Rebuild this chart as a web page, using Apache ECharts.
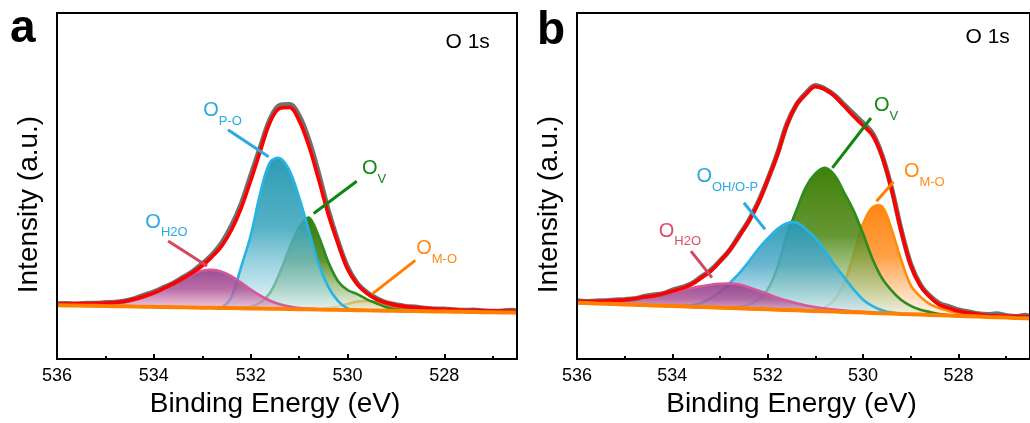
<!DOCTYPE html>
<html><head><meta charset="utf-8">
<script src="https://cdn.jsdelivr.net/npm/echarts@6/dist/echarts.min.js"></script>
<style>html,body{margin:0;padding:0;background:#fff}#c{width:1030px;height:423px}</style>
</head><body><div id="c"></div>
<script>
// ---- data (binding energy grid, eV) ----
const energy = [536.0,535.8,535.6,535.4,535.2,535.0,534.8,534.6,534.4,534.2,534.0,533.8,533.6,533.4,533.2,533.0,532.8,532.6,532.4,532.2,532.0,531.8,531.6,531.4,531.2,531.0,530.8,530.6,530.4,530.2,530.0,529.8,529.6,529.4,529.2,529.0,528.8,528.6,528.4,528.2,528.0,527.8,527.6,527.4,527.2,527.0,526.8,526.6,526.5];
const majorTicks = [536, 534, 532, 530, 528];
const minorTicks = [535, 533, 531, 529, 527];

// panel a : background and heights above background
const baselineA = [54.0,53.8,53.7,53.5,53.4,53.2,53.1,52.9,52.7,52.6,52.4,52.3,52.1,51.9,51.8,51.6,51.5,51.3,51.2,51.0,50.8,50.7,50.5,50.4,50.2,50.1,49.9,49.7,49.6,49.4,49.3,49.1,48.9,48.8,48.6,48.5,48.3,48.2,48.0,47.8,47.7,47.5,47.4,47.2,47.0,46.9,46.7,46.6,46.5];
const envelopeA = [1.5,1.5,2,2,2.5,3,3.5,5,7.5,10.5,14,18.5,23.5,29,35,42,51,62,78,100,128,158,187,201,202,189,164,131,96,67,41,26,17,11,8,5.5,4.5,3.5,3,2.5,2,2,1.5,1.5,1.5,1.5,1.5,1.5,1.5];
const rawA = [1.5,2,1.5,2.5,2.5,3.5,4,5.5,8,11.5,15,19.5,24,30,36,44,53,65,82,104,133,162,190,204,205,194,170,137,100,69,43,27,18,12,8,6,4.5,4,3,2.5,2.5,2,1.5,2,1.5,1,1.5,2.5,1.5];
const h2oA = [0,0.1,0.2,0.4,0.7,1.3,2.4,4,6.5,9.5,13,18,23,28.5,33.5,37,38,36.4,32,25.7,19,12.9,8,4.6,2.4,1.1,0.5,0.2,0,0,0,0,0,0,0,0,0,0,0,0,0,0,0,0,0,0,0,0,0];
const poA = [0,0,0,0,0,0,0,0,0,0,0,0,0,0,0,0,0,0.5,11,41,73,116,147,151,139,112,79,46,23,9,1.5,0,0,0,0,0,0,0,0,0,0,0,0,0,0,0,0,0,0];
const vA = [0,0,0,0,0,0,0,0,0,0,0,0,0,0,0,0,0,0,0,0.4,1.7,6,16,36,61,82,92,74,48,29,20,16,11,7,3.5,1.5,0.5,0,0,0,0,0,0,0,0,0,0,0,0];
const moA = [0,0,0,0,0,0,0,0,0,0,0,0,0,0,0,0,0,0,0,0,0,0,0,0,0,0,0,0.5,1.5,3.5,6,8.5,9.5,8,5.5,3,1.5,0.5,0,0,0,0,0,0,0,0,0,0,0];

// panel b
const baselineB = [56.5,56.2,55.8,55.5,55.2,54.8,54.5,54.2,53.8,53.5,53.2,52.9,52.5,52.2,51.9,51.5,51.2,50.9,50.5,50.2,49.9,49.5,49.2,48.9,48.5,48.2,47.9,47.6,47.2,46.9,46.6,46.2,45.9,45.6,45.2,44.9,44.6,44.2,43.9,43.6,43.2,42.9,42.6,42.2,41.9,41.6,41.2,40.9,40.7];
const envelopeB = [1.5,1.5,2,2.5,3.5,4.5,6,8,9.5,12,15,18,22.5,29,36,46.5,58,72,87.5,106,130,155,185,206,217,225,222.5,216,206.5,196.5,187.5,178,157,124,83,49,29,18,10.5,7.5,5,3.5,2.5,1.5,1.5,1.5,1.5,1.5,1.5];
const rawB = [2,1.5,2.5,3,4,5,6,8.5,10.5,12,16,19,23,30,37,47,58,73,88,107,130,156,186,206,218,226,223,217,208,199,190,180,158,125,84,50,30,19,12,9,6,4.5,3,2.5,3.5,2,1.5,3,1.5];
const h2oB = [1,1.5,2,2.5,3.2,4.2,5.5,7,8.8,11,13.5,16,18.5,20.8,22.7,24,24.5,23.8,21.5,18.5,15.5,12,9.5,7,5.2,3.8,2.8,2,1.4,1,0.7,0.5,0.3,0.2,0,0,0,0,0,0,0,0,0,0,0,0,0,0,0];
const ohB = [0,0,0,0,0,0,0,0,0,0,0,0.5,1.5,4,9,16,25,35,47,60,71,81,87,88,82,73,61,47,35,23,13,7,3,1,0.3,0,0,0,0,0,0,0,0,0,0,0,0,0,0];
const vB = [0,0,0,0,0,0,0,0,0,0,0,0,0,0,0,0,0.5,1.5,4,9.5,20,42,75,100,124,138,144,137,120,102,79,54,35,23,14,8.5,4.8,3,1.2,0.5,0,0,0,0,0,0,0,0,0];
const moB = [0,0,0,0,0,0,0,0,0,0,0,0,0,0,0,0,0,0,0,0,0,0,0,0,0,0,4,12,29,58,89,106,107,84,54,29,18,11,7,4.7,2.5,1.4,0.6,0.3,0,0,0,0,0];

// ---- styling / build ----
const FONT = "'Liberation Sans', Arial, Helvetica, sans-serif";
const BLUE_T = '#29abe2', GREEN_T = '#138a13', ORANGE_T = '#ff8a14', RED_T = '#db4d66';
const SMOOTH = 0.35;
function grad(stops) {
  return {type:'linear', x:0, y:0, x2:0, y2:1,
          colorStops: stops.map(s => ({offset: s[0], color: s[1]}))};
}
function absPts(base, h) { return energy.map((e, i) => [e, base[i] + (h ? h[i] : 0)]); }

const annA = {
  labels: [
    {sub:'H2O', at:[534.165,146.9], color:BLUE_T},
    {sub:'P-O', at:[532.969,258.6], color:BLUE_T},
    {sub:'V', at:[529.69,200.3], color:GREEN_T},
    {sub:'M-O', at:[528.571,120.3], color:ORANGE_T}
  ],
  leaders: [
    {from:[533.705,118.3], to:[532.90,93.3], color:'#d2485e'},
    {from:[532.47,230], to:[531.63,203], color:BLUE_T},
    {from:[529.81,178.3], to:[530.70,146], color:'#0f870f'},
    {from:[528.60,99], to:[529.48,65.7], color:'#ff8000'}
  ]
};
const annB = {
  labels: [
    {sub:'H2O', at:[534.274,137.6], color:RED_T},
    {sub:'OH/O-P', at:[533.485,192.6], color:BLUE_T},
    {sub:'V', at:[529.763,263.6], color:GREEN_T},
    {sub:'M-O', at:[529.134,197.6], color:ORANGE_T}
  ],
  leaders: [
    {from:[533.61,108.3], to:[533.17,81.7], color:'#d2485e'},
    {from:[532.50,156.7], to:[532.056,130], color:BLUE_T},
    {from:[529.835,241.7], to:[530.645,191.7], color:'#0f870f'},
    {from:[529.36,177.7], to:[529.72,158.3], color:'#ff8000'}
  ]
};

const FILL_BLUE = [[0,'rgba(36,152,176,0.96)'],[0.45,'rgba(62,166,190,0.88)'],[0.8,'rgba(150,208,225,0.65)'],[1,'rgba(222,243,249,0.5)']];
const FILL_GREEN = [[0,'rgba(52,118,6,0.98)'],[0.45,'rgba(78,135,28,0.9)'],[0.8,'rgba(160,195,130,0.65)'],[1,'rgba(234,242,228,0.5)']];
const FILL_PINK = [[0,'rgba(145,64,140,0.92)'],[0.45,'rgba(172,84,150,0.85)'],[0.8,'rgba(215,140,180,0.65)'],[1,'rgba(246,205,222,0.5)']];
const panelA = {
  baseline: baselineA, env: envelopeA, raw: rawA, ann: annA,
  comps: [
    {data: moA, line:'#ff8c0a', fill:[[0,'rgba(255,180,105,0.6)'],[0.5,'rgba(255,205,160,0.5)'],[1,'rgba(255,235,215,0.4)']]},
    {data: vA, line:'#2e8b1e', fill:FILL_GREEN},
    {data: poA, line:'#27b4e4', fill:FILL_BLUE},
    {data: h2oA, line:'#d4589a', fill:FILL_PINK}
  ]
};
const panelB = {
  baseline: baselineB, env: envelopeB, raw: rawB, ann: annB,
  comps: [
    {data: moB, line:'#ff8c0a', fill:[[0,'rgba(255,132,16,0.98)'],[0.45,'rgba(255,150,50,0.9)'],[0.8,'rgba(255,200,150,0.65)'],[1,'rgba(255,238,222,0.5)']]},
    {data: vB, line:'#2e8b1e', fill:[[0,'rgba(62,126,6,0.98)'],[0.45,'rgba(85,140,30,0.9)'],[0.8,'rgba(165,200,135,0.65)'],[1,'rgba(234,242,228,0.5)']]},
    {data: ohB, line:'#27b4e4', fill:[[0,'rgba(40,152,180,0.94)'],[0.45,'rgba(80,170,200,0.85)'],[0.8,'rgba(160,212,232,0.65)'],[1,'rgba(218,240,250,0.5)']]},
    {data: h2oB, line:'#d4589a', fill:FILL_PINK}
  ]
};

// a fitted component: filled band between background and (background + component), drawn through the axes
function componentSeries(p, c, xi, yi) {
  return {
    type:'custom', xAxisIndex:xi, yAxisIndex:yi, clip:true, silent:true,
    data:[[energy[0], p.baseline[0]]],
    renderItem: function (params, api) {
      const top = energy.map((e, i) => api.coord([e, p.baseline[i] + c.data[i]]));
      const bot = energy.map((e, i) => api.coord([e, p.baseline[i]])).reverse();
      return {type:'group', children:[
        {type:'polygon', shape:{points: top.concat(bot), smooth: SMOOTH},
         style:{fill: grad(c.fill), stroke:null}},
        {type:'polyline', shape:{points: top, smooth: SMOOTH},
         style:{fill:null, stroke:c.line, lineWidth:2.6, lineJoin:'round'}}
      ]};
    }
  };
}

function buildPanel(p, xi, yi) {
  const out = [];
  p.comps.forEach(c => out.push(componentSeries(p, c, xi, yi)));
  out.push({type:'line', xAxisIndex:xi, yAxisIndex:yi, clip:true, data:absPts(p.baseline, p.raw), symbol:'none', smooth:SMOOTH,
            lineStyle:{color:'#707070', width:5}, silent:true});
  out.push({type:'line', xAxisIndex:xi, yAxisIndex:yi, clip:true, data:absPts(p.baseline, p.env), symbol:'none', smooth:SMOOTH,
            lineStyle:{color:'#ff0000', width:3.6}, silent:true});
  out.push({type:'line', xAxisIndex:xi, yAxisIndex:yi, clip:true, data:absPts(p.baseline), symbol:'none',
    lineStyle:{color:'#ff8000', width:4}, silent:true,
    markLine:{silent:true, symbol:['none','none'], label:{show:false}, animation:false,
      data: p.ann.leaders.map(l => [{coord:l.from, lineStyle:{color:l.color, width:3, type:'solid'}}, {coord:l.to}])},
    markPoint:{silent:true, symbol:'circle', symbolSize:1, itemStyle:{color:'rgba(0,0,0,0)'}, animation:false,
      data: p.ann.labels.map(l => ({coord:l.at, label:{show:true, position:[0,0], align:'left', verticalAlign:'top',
        formatter:'{o|O}{s|' + l.sub + '}',
        rich:{o:{fontSize:20, lineHeight:22, color:l.color, verticalAlign:'top', fontFamily:FONT},
              s:{fontSize:13, lineHeight:13, padding:[14,0,0,0], color:l.color, verticalAlign:'top', fontFamily:FONT}}}}))}
  });
  return out;
}

function xAxes(gi) {
  return [
    {gridIndex:gi, type:'value', position:'bottom', min:526.5, max:536, inverse:true,
     axisLine:{show:false}, splitLine:{show:false},
     axisTick:{show:true, inside:true, length:5, customValues:majorTicks, lineStyle:{color:'#000', width:2}},
     axisLabel:{show:true, customValues:majorTicks, margin:8, fontSize:18, color:'#000', fontFamily:FONT},
     name:'Binding Energy (eV)', nameLocation:'middle', nameGap:30,
     nameTextStyle:{fontSize:28, color:'#000', fontFamily:FONT, padding:[0,24,0,0]}},
    {gridIndex:gi, type:'value', position:'bottom', min:526.5, max:536, inverse:true,
     axisLine:{show:false}, splitLine:{show:false},
     axisTick:{show:true, inside:true, length:3, customValues:minorTicks, lineStyle:{color:'#000', width:2}},
     axisLabel:{show:false}}
  ];
}
function yAxis(gi) {
  return {gridIndex:gi, type:'value', min:0, max:347, axisLine:{show:false}, axisTick:{show:false},
          axisLabel:{show:false}, splitLine:{show:false},
          name:'Intensity (a.u.)', nameLocation:'middle', nameGap:14,
          nameTextStyle:{fontSize:28, color:'#000', fontFamily:FONT, padding:[0,37,0,0]}};
}

const chart = echarts.init(document.getElementById('c'), null, {renderer:'canvas'});
chart.setOption({
  animation:false,
  backgroundColor:'#fff',
  textStyle:{fontFamily:FONT},
  grid:[
    {left:57, top:13, width:460, height:347, show:true, borderColor:'#000', borderWidth:2, backgroundColor:'transparent', z:10},
    {left:577, top:13, width:461, height:347, show:true, borderColor:'#000', borderWidth:2, backgroundColor:'transparent', z:10}
  ],
  xAxis: xAxes(0).concat(xAxes(1)),
  yAxis: [yAxis(0), yAxis(1)],
  series: buildPanel(panelA, 0, 0).concat(buildPanel(panelB, 2, 1)),
  graphic:[
    {type:'text', left:10, top:6, style:{text:'a', fontSize:46, fontWeight:'bold', fontFamily:FONT, fill:'#000'}},
    {type:'text', left:537, top:8, style:{text:'b', fontSize:46, fontWeight:'bold', fontFamily:FONT, fill:'#000'}},
    {type:'text', left:445.5, top:32, style:{text:'O 1s', fontSize:21, fontFamily:FONT, fill:'#000'}},
    {type:'text', left:965.5, top:27, style:{text:'O 1s', fontSize:21, fontFamily:FONT, fill:'#000'}}
  ]
});
</script>
</body></html>
